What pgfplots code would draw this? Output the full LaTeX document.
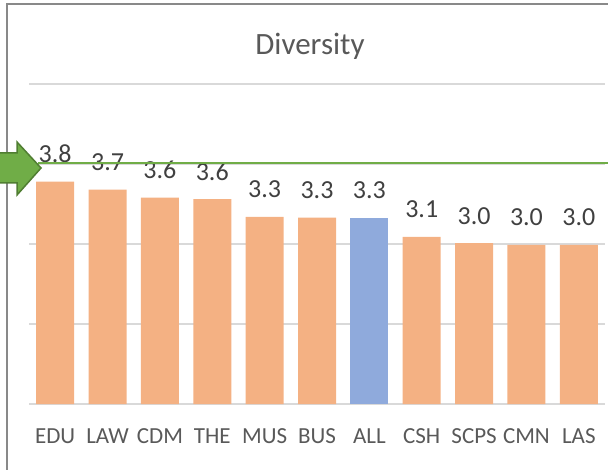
\documentclass[border=0pt]{standalone}
\usepackage{fontspec}
\setmainfont{Carlito}
\usepackage{pgfplots}
\pgfplotsset{compat=1.18}
\definecolor{barorange}{HTML}{F4B183}
\definecolor{barblue}{HTML}{8FAADC}
\definecolor{gridgray}{HTML}{D9D9D9}
\definecolor{txtgray}{HTML}{595959}
\definecolor{lbldark}{HTML}{404040}
\definecolor{framegray}{HTML}{898989}
\definecolor{arrowgreen}{HTML}{70AD47}
\definecolor{arrowdark}{HTML}{507E32}
\begin{document}
\begin{tikzpicture}[x=1pt,y=1pt]
\useasboundingbox (0,0) rectangle (608,-470);
\begin{axis}[
  at={(29pt,-404pt)}, anchor=south west,
  scale only axis, width=576pt, height=320pt,
  xmin=-0.5, xmax=10.5, ymin=1, ymax=5,
  ytick={1,2,3,4,5}, yticklabels={},
  ymajorgrids, grid style={gridgray, line width=1.3pt},
  major tick length=0pt,
  axis line style={draw=none},
  xtick={0,...,10},
  xticklabels={EDU,LAW,CDM,THE,MUS,BUS,ALL,CSH,SCPS,CMN,LAS},
  xticklabel style={font=\fontsize{23}{27}\selectfont, text=txtgray, anchor=base, yshift=-39pt, inner sep=0pt},
  xtick style={draw=none}, ytick style={draw=none},
  ybar, bar width=38pt, bar shift=0pt,
  nodes near coords={\pgfmathprintnumber[fixed,fixed zerofill,precision=1,assume math mode=true]{\pgfplotspointmeta}},
  every node near coord/.append style={font=\fontsize{26}{30}\selectfont, text=lbldark, anchor=base, yshift=19pt, inner sep=0pt},
]
\addplot[fill=barorange, draw=none] coordinates {(0,3.78) (1,3.68) (2,3.58) (3,3.56) (4,3.34) (5,3.33) (7,3.09) (8,3.01) (9,2.99) (10,2.99)};
\addplot[fill=barblue, draw=none] coordinates {(6,3.33)};
\end{axis}
\node[anchor=base, font=\fontsize{31}{36}\selectfont, text=txtgray, inner sep=0pt] at (310,-55) {Diversity};
\draw[framegray, line width=1.5pt] (7,-470) -- (7,-4) -- (608,-4);
\draw[arrowgreen, line width=1.5pt] (38,-163) -- (608,-163);
\filldraw[fill=arrowgreen, draw=arrowdark, line width=1.5pt] (-3,-153) -- (17,-153) -- (17,-142) -- (41,-168) -- (17,-195) -- (17,-183) -- (-3,-183) -- cycle;
\end{tikzpicture}
\end{document}
